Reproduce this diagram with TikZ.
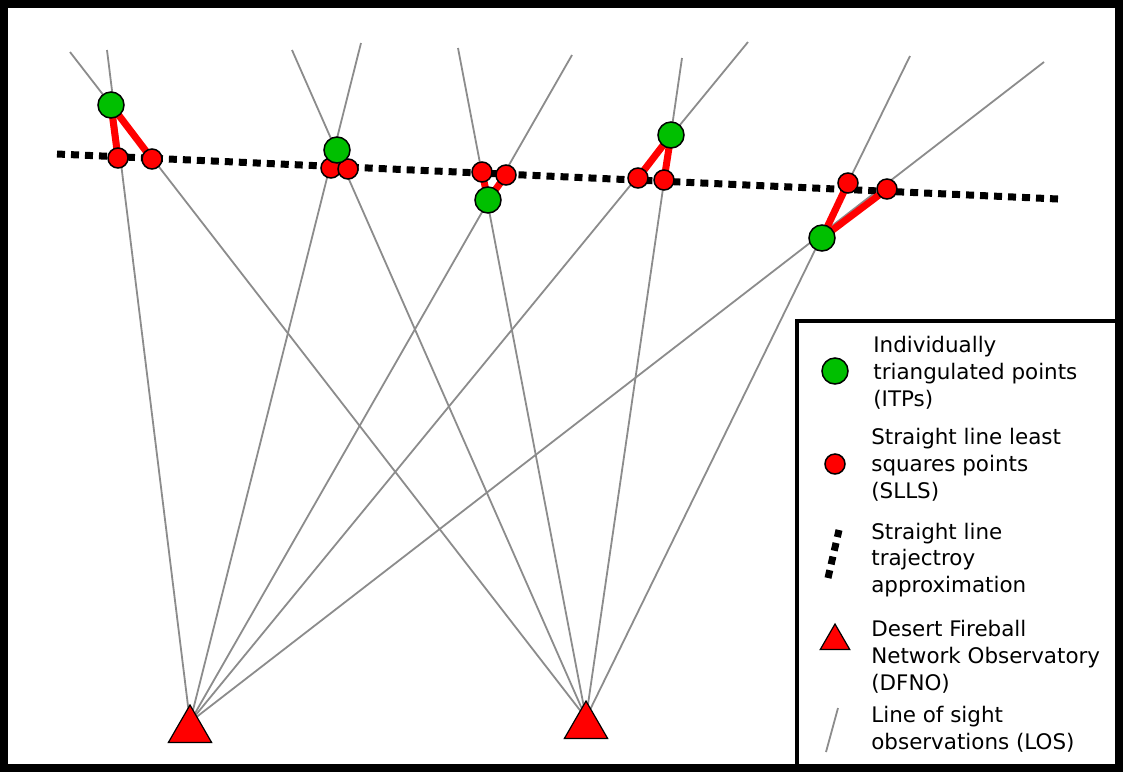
\documentclass[tikz,border=0pt]{standalone}
\usepackage{fontspec}
\setmainfont{DejaVu Sans}
\usetikzlibrary{shapes.geometric}
\tikzset{
  itp/.style={circle,draw,fill=green!75!black,minimum size=26\pxu,inner sep=0pt,line width=1.5\pxu},
  slls/.style={circle,draw,fill=red,minimum size=20\pxu,inner sep=0pt,line width=1.5\pxu},
  dfno/.style={regular polygon,regular polygon sides=3,draw,fill=red,minimum size=50\pxu,inner sep=0pt,line width=1.2\pxu},
  los/.style={black!45,line width=1.8\pxu},
  link/.style={red,line width=7\pxu},
  traj/.style={black,line width=7\pxu,dash pattern=on 8\pxu off 6\pxu},
  legtext/.style={anchor=west,align=left,inner sep=0pt,font=\fontsize{12.2}{15.3}\selectfont}
}
\newlength{\pxu}\setlength{\pxu}{0.02cm}
\begin{document}
\begin{tikzpicture}[x=0.02cm,y=-0.02cm]
\useasboundingbox (0,0) rectangle (1123,772);
\fill[white] (0,0) rectangle (1123,772);

% observatories and far ends of the sight lines
\coordinate (obsA) at (190,722);
\coordinate (obsB) at (586,718);
\coordinate (a1) at (107,50);  \coordinate (a2) at (361,43);
\coordinate (a3) at (572,55);  \coordinate (a4) at (748,42);
\coordinate (a5) at (1044,62);
\coordinate (b1) at (70,52);   \coordinate (b2) at (292,50);
\coordinate (b3) at (458,48);  \coordinate (b4) at (682,58);
\coordinate (b5) at (910,56);
\foreach \e in {a1,a2,a3,a4,a5} \draw[los] (obsA) -- (\e);
\foreach \e in {b1,b2,b3,b4,b5} \draw[los] (obsB) -- (\e);

% trajectory
\coordinate (t0) at (57,154);
\coordinate (t1) at (1058,199);
\draw[traj] (t0) -- (t1);

% points
\foreach \n/\x/\y in {g1/111/105,g2/337/150,g3/488/200,g4/671/135,g5/822/238}
  \coordinate (\n) at (\x,\y);
\foreach \n/\x/\y in {r1/118/158,r2/152/159,r3/331/168,r4/348/169,r5/482/172,
                      r6/506/175,r7/638/178,r8/664/180,r9/848/183,r10/887/189}
  \coordinate (\n) at (\x,\y);
\foreach \g/\r in {g1/r1,g1/r2,g2/r3,g2/r4,g3/r5,g3/r6,g4/r7,g4/r8,g5/r9,g5/r10}
  \draw[link] (\g) -- (\r);
\foreach \n in {r1,r2,r3,r4,r5,r6,r7,r8,r9,r10} \node[slls] (p\n) at (\n) {};
\foreach \n in {g1,g2,g3,g4,g5} \node[itp] (p\n) at (\n) {};

\node[dfno] (dfnoA) at (190,730) {};
\node[dfno] (dfnoB) at (586,726) {};

% legend
\draw[line width=4\pxu,fill=white] (797,321) rectangle (1117,770);
\node[itp] (legitp) at (835,371) {};
\node[legtext] at (873,373) {Individually\\triangulated points\\(ITPs)};
\node[slls] (legslls) at (835,464) {};
\node[legtext] at (871,465) {Straight line least\\squares points\\(SLLS)};
\coordinate (legt0) at (828,578); \coordinate (legt1) at (839,530);
\draw[traj] (legt0) -- (legt1);
\node[legtext] at (871,560) {Straight line\\trajectroy\\approximation};
\node[dfno,minimum size=34\pxu] (legdfno) at (835,641) {};
\node[legtext] at (871,657) {Desert Fireball\\Network Observatory\\(DFNO)};
\coordinate (legl0) at (826,752); \coordinate (legl1) at (838,708);
\draw[los] (legl0) -- (legl1);
\node[legtext] at (871,729) {Line of sight\\observations (LOS)};

% frame
\draw[line width=8\pxu] (4,4) rectangle (1119,768);
\end{tikzpicture}
\end{document}
